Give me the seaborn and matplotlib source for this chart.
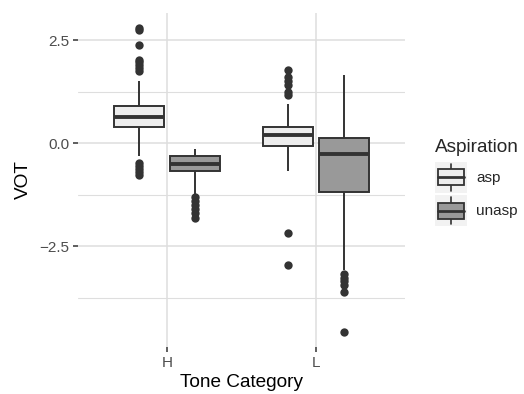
import numpy as np
import pandas as pd
import seaborn as sns
import matplotlib
matplotlib.use("Agg")
import matplotlib.pyplot as plt
from matplotlib.ticker import FixedLocator
from matplotlib.patches import Rectangle, Patch
from matplotlib.lines import Line2D
from matplotlib.legend_handler import HandlerBase

## -----------------------
# box summaries, one entry per (tone, aspiration) box
## -----------------------
tone = ["H", "H", "L", "L"]
aspiration = ["asp", "unasp", "asp", "unasp"]
q1 = [0.39, -0.68, -0.07, -1.17]
median = [0.645, -0.50, 0.19, -0.27]
q3 = [0.91, -0.31, 0.40, 0.13]
whisker_lo = [-0.30, -1.22, -0.66, -3.08]
whisker_hi = [1.50, -0.15, 0.95, 1.66]
outliers = [
    [2.79, 2.74, 2.38, 2.03, 1.96, 1.89, 1.82, 1.75, -0.47, -0.55, -0.63, -0.70, -0.76],
    [-1.30, -1.40, -1.50, -1.60, -1.70, -1.82],
    [1.77, 1.60, 1.52, 1.42, 1.24, 1.16, -2.18, -2.96],
    [-3.18, -3.26, -3.34, -3.44, -3.60, -4.57],
]
tone_order = ["H", "L"]
asp_order = ["asp", "unasp"]
fills = ["#EDEDED", "#999999"]
ink = "#333333"


def box_sample(lo, a, m, b, hi, extra, k=30):
    # sample whose quartiles / whiskers / fliers reproduce the read summary
    return list(extra) + [lo] + [a] * k + [m] * k + [b] * k + [hi]


rows = []
for i in range(len(tone)):
    for v in box_sample(whisker_lo[i], q1[i], median[i], q3[i], whisker_hi[i], outliers[i]):
        rows.append({"Tone Category": tone[i], "Aspiration": aspiration[i], "VOT": v})
df = pd.DataFrame(rows)


class BoxKey(HandlerBase):
    # ggplot-like boxplot legend key
    def create_artists(self, legend, handle, xd, yd, w, h, fontsize, trans):
        x0, y0 = -xd, -yd
        bg = Rectangle((x0, y0), w, h, fc="#F2F2F2", ec="none", transform=trans)
        cx = x0 + w / 2
        wl = Line2D([cx, cx], [y0 + 0.08 * h, y0 + 0.92 * h], color=ink, lw=1.2, transform=trans)
        box = Rectangle((x0 + 0.1 * w, y0 + 0.25 * h), 0.8 * w, 0.5 * h,
                        fc=handle.get_facecolor(), ec=ink, lw=1.3, transform=trans)
        med = Line2D([x0 + 0.1 * w, x0 + 0.9 * w], [y0 + h / 2] * 2, color=ink, lw=2.0, transform=trans)
        return [bg, wl, box, med]


sns.set_theme(style="white")
plt.rcParams["font.family"] = ["Liberation Sans", "DejaVu Sans"]

fig = plt.figure(figsize=(5.24, 3.94), dpi=100)
ax = fig.add_axes([78 / 524, 1 - 347 / 394, 327 / 524, 334 / 394])

sns.boxplot(data=df, x="Tone Category", y="VOT", hue="Aspiration",
            order=tone_order, hue_order=asp_order, palette=fills, saturation=1,
            width=0.75, gap=0.1, linecolor=ink, linewidth=1.4, showcaps=False,
            flierprops=dict(marker="o", markersize=6, markerfacecolor=ink,
                            markeredgecolor=ink, markeredgewidth=0),
            medianprops=dict(linewidth=2.8, color=ink),
            legend=False, ax=ax)

vals = df["VOT"]
r = vals.max() - vals.min()
ax.set_ylim(vals.min() - 0.05 * r, vals.max() + 0.05 * r)
ax.set_xlim(-0.6, 1.6)

ax.set_yticks([-2.5, 0.0, 2.5])
ax.set_yticklabels(["\u22122.5", "0.0", "2.5"])
ax.yaxis.set_minor_locator(FixedLocator([-3.75, -1.25, 1.25]))
ax.set_axisbelow(True)
ax.grid(True, which="major", color="#DEDEDE", lw=1.1)
ax.grid(True, which="minor", axis="y", color="#DEDEDE", lw=0.8)
for s in ax.spines.values():
    s.set_visible(False)
ax.tick_params(which="major", length=3.8, width=1.1, color=ink, labelsize=11,
               labelcolor="#4D4D4D", pad=2.5, left=True, bottom=True)
ax.tick_params(which="minor", length=0)

ax.set_xlabel("Tone Category", fontsize=13.7, color="black", labelpad=3)
ax.set_ylabel("VOT", fontsize=13.7, color="black", labelpad=5)

handles = [Patch(facecolor=c) for c in fills]
leg = fig.legend(handles, asp_order, handler_map={Patch: BoxKey()},
                 loc="upper left", bbox_to_anchor=(435 / 524, 1 - 139 / 394),
                 frameon=False, fontsize=11, title="Aspiration", title_fontsize=13.7,
                 alignment="left", handlelength=2.1, handleheight=2.8,
                 labelspacing=0.12, handletextpad=0.6, borderpad=0, borderaxespad=0)
# a bit more room between the title and the keys, like ggplot
leg._legend_box.sep = 4

fig.savefig("out.png", dpi=100)
